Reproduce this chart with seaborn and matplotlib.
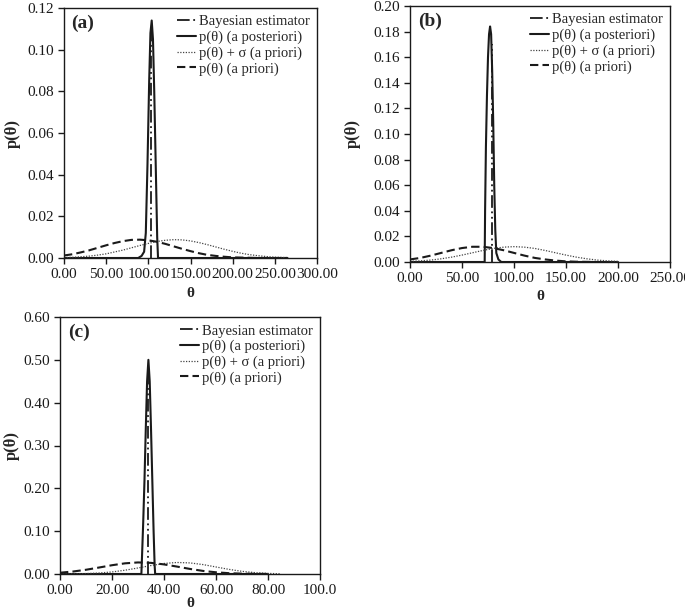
import numpy as np
import matplotlib
matplotlib.use("Agg")
import matplotlib.pyplot as plt
import seaborn as sns

# ── panel (a) ─────────────────────────────────────────────
a_theta_prior = [0, 10, 20, 30, 40, 50, 60, 70, 80, 90, 100, 110, 120, 130, 140, 150,
                 160, 170, 180, 190, 200, 210, 220, 230, 265]
a_prior = [0.0012, 0.0018, 0.0027, 0.0037, 0.0049, 0.0061, 0.0072, 0.0081, 0.0087, 0.0088,
           0.0085, 0.0078, 0.0068, 0.0056, 0.0044, 0.0033, 0.0023, 0.0015, 0.0010, 0.0006,
           0.0003, 0.0002, 0.0001, 0.0, 0.0]
a_theta_sig = [0, 10, 20, 30, 40, 50, 60, 70, 80, 90, 100, 110, 120, 130, 140, 150, 160,
               170, 180, 190, 200, 210, 220, 230, 240, 250, 265]
a_sig = [0.0002, 0.00035, 0.0006, 0.0009, 0.0014, 0.0020, 0.0029, 0.0038, 0.0049, 0.0060,
         0.0070, 0.0079, 0.0085, 0.0088, 0.0087, 0.0082, 0.0074, 0.0064, 0.0053, 0.0042,
         0.0032, 0.0023, 0.0016, 0.0011, 0.0007, 0.0004, 0.0002]
a_theta_post = [0, 60, 88, 92, 95, 97, 99, 101, 102.5, 104, 105.5, 107, 109, 110.5, 111.5, 120, 265]
a_post = [0, 0, 0, 0.001, 0.003, 0.012, 0.045, 0.085, 0.108, 0.114, 0.105, 0.080, 0.040,
          0.010, 0, 0, 0]
a_bayes_theta = [103, 103]
a_bayes_p = [0, 0.112]

# ── panel (b) ─────────────────────────────────────────────
b_theta_prior = [0, 10, 20, 30, 40, 50, 60, 70, 80, 90, 100, 110, 120, 130, 140, 150, 160, 170, 180]
b_prior = [0.0020, 0.0032, 0.0050, 0.0071, 0.0092, 0.0109, 0.0119, 0.0119, 0.0109, 0.0092,
           0.0071, 0.0050, 0.0032, 0.0020, 0.0011, 0.0005, 0.0002, 0.0001, 0.0]
b_theta_sig = [0, 10, 20, 30, 40, 50, 60, 70, 80, 90, 100, 110, 120, 130, 140, 150, 160,
               170, 180, 190, 200]
b_sig = [0.0005, 0.0009, 0.0015, 0.0025, 0.0038, 0.0054, 0.0072, 0.0090, 0.0106, 0.0116,
         0.0120, 0.0116, 0.0106, 0.0090, 0.0072, 0.0054, 0.0038, 0.0025, 0.0015, 0.0009, 0.0005]
b_theta_post = [0, 60, 71.8, 72.2, 73, 74, 75, 76, 77, 78, 79, 80, 81, 82, 83, 85, 87, 88, 200]
b_post = [0, 0, 0, 0.04, 0.09, 0.13, 0.16, 0.178, 0.184, 0.178, 0.15, 0.11, 0.06, 0.025,
          0.007, 0.002, 0.0005, 0, 0]
b_bayes_theta = [79, 79]
b_bayes_p = [0, 0.17]

# ── panel (c) ─────────────────────────────────────────────
c_theta_prior = [0, 5, 10, 15, 20, 25, 30, 35, 40, 45, 50, 55, 60, 65, 70, 75, 80]
c_prior = [0.0030, 0.0058, 0.0099, 0.0151, 0.0205, 0.0249, 0.0270, 0.0260, 0.0224, 0.0173,
           0.0118, 0.0072, 0.0040, 0.0019, 0.0008, 0.0003, 0.0001]
c_theta_sig = [0, 5, 10, 15, 20, 25, 30, 35, 40, 45, 50, 55, 60, 65, 70, 75, 80, 85]
c_sig = [0.0001, 0.0004, 0.0010, 0.0023, 0.0048, 0.0088, 0.0141, 0.0198, 0.0246, 0.0269,
         0.0259, 0.0220, 0.0164, 0.0108, 0.0062, 0.0032, 0.0014, 0.0005]
c_theta_post = [0, 31.3, 31.6, 32, 32.5, 33, 33.5, 34, 34.5, 35, 35.5, 36, 36.4, 36.6, 80]
c_post = [0, 0, 0.05, 0.12, 0.22, 0.34, 0.45, 0.50, 0.45, 0.34, 0.22, 0.10, 0.02, 0, 0]
c_bayes_theta = [34, 34]
c_bayes_p = [0, 0.48]

labels = ["Bayesian estimator", "p(\u03b8) (a posteriori)",
          "p(\u03b8) + \u03c3 (a priori)", "p(\u03b8) (a priori)"]

sns.set_theme(style="ticks")
plt.rcParams['font.family'] = ['Liberation Serif', 'DejaVu Serif']

fig = plt.figure(figsize=(6.85, 6.11), dpi=100)

panels = [
    dict(rect=[64/685, 1-258/611, 253/685, 250/611], tag="(a)",
         prior=(a_theta_prior, a_prior), sig=(a_theta_sig, a_sig),
         post=(a_theta_post, a_post), bayes=(a_bayes_theta, a_bayes_p),
         xlim=300, xstep=50, ylim=0.12, ystep=0.02, xlabels=None,
         ylc=-0.17, xlc=-0.115),
    dict(rect=[410/685, 1-262/611, 260/685, 256/611], tag="(b)",
         prior=(b_theta_prior, b_prior), sig=(b_theta_sig, b_sig),
         post=(b_theta_post, b_post), bayes=(b_bayes_theta, b_bayes_p),
         xlim=250, xstep=50, ylim=0.20, ystep=0.02, xlabels=None,
         ylc=-0.19, xlc=-0.108),
    dict(rect=[60/685, 1-574/611, 260/685, 257/611], tag="(c)",
         prior=(c_theta_prior, c_prior), sig=(c_theta_sig, c_sig),
         post=(c_theta_post, c_post), bayes=(c_bayes_theta, c_bayes_p),
         xlim=100, xstep=20, ylim=0.60, ystep=0.10,
         xlabels=["0.00", "20.00", "40.00", "60.00", "80.00", "100.0"],
         ylc=-0.155, xlc=-0.088),
]

for p in panels:
    ax = fig.add_axes(p["rect"])
    sns.lineplot(x=p["bayes"][0], y=p["bayes"][1], ax=ax, color='k', lw=1.3,
                 linestyle=(0, (7, 2, 1, 2, 1, 2)), estimator=None, sort=False, label=labels[0])
    sns.lineplot(x=p["post"][0], y=p["post"][1], ax=ax, color='k', lw=1.5,
                 linestyle='-', estimator=None, sort=False, label=labels[1])
    sns.lineplot(x=p["sig"][0], y=p["sig"][1], ax=ax, color='#444444', lw=0.9,
                 linestyle=(0, (1, 1.2)), estimator=None, sort=False, label=labels[2])
    sns.lineplot(x=p["prior"][0], y=p["prior"][1], ax=ax, color='k', lw=1.5,
                 linestyle=(0, (4, 2)), estimator=None, sort=False, label=labels[3])

    ax.set_xlim(0, p["xlim"])
    ax.set_ylim(0, p["ylim"])
    xt = np.arange(0, p["xlim"] + 1e-9, p["xstep"])
    yt = np.arange(0, p["ylim"] + 1e-9, p["ystep"])
    ax.set_xticks(xt)
    ax.set_yticks(yt)
    ax.set_xticklabels(p["xlabels"] if p["xlabels"] else ["%.2f" % v for v in xt])
    ax.set_yticklabels(["%.2f" % v for v in yt])
    ax.tick_params(direction='out', length=4, width=1, colors='k', labelsize=11, pad=3)
    for s in ax.spines.values():
        s.set_color('k')
        s.set_linewidth(1)
        s.set_visible(True)

    ax.set_xlabel("\u03b8", fontsize=11, fontweight='bold')
    ax.set_ylabel("p(\u03b8)", fontsize=12, fontweight='bold')
    ax.xaxis.set_label_coords(0.5, p["xlc"])
    ax.yaxis.set_label_coords(p["ylc"], 0.5)

    ax.text(0.03, 0.975, p["tag"], transform=ax.transAxes, fontsize=14,
            fontweight='bold', va='top', ha='left')

    ax.legend(loc='upper right', bbox_to_anchor=(1.0, 1.0), frameon=False, fontsize=10.5,
              handlelength=1.3, handletextpad=0.2, labelspacing=0.15, borderaxespad=0.1)

fig.savefig("out.png", dpi=100)
